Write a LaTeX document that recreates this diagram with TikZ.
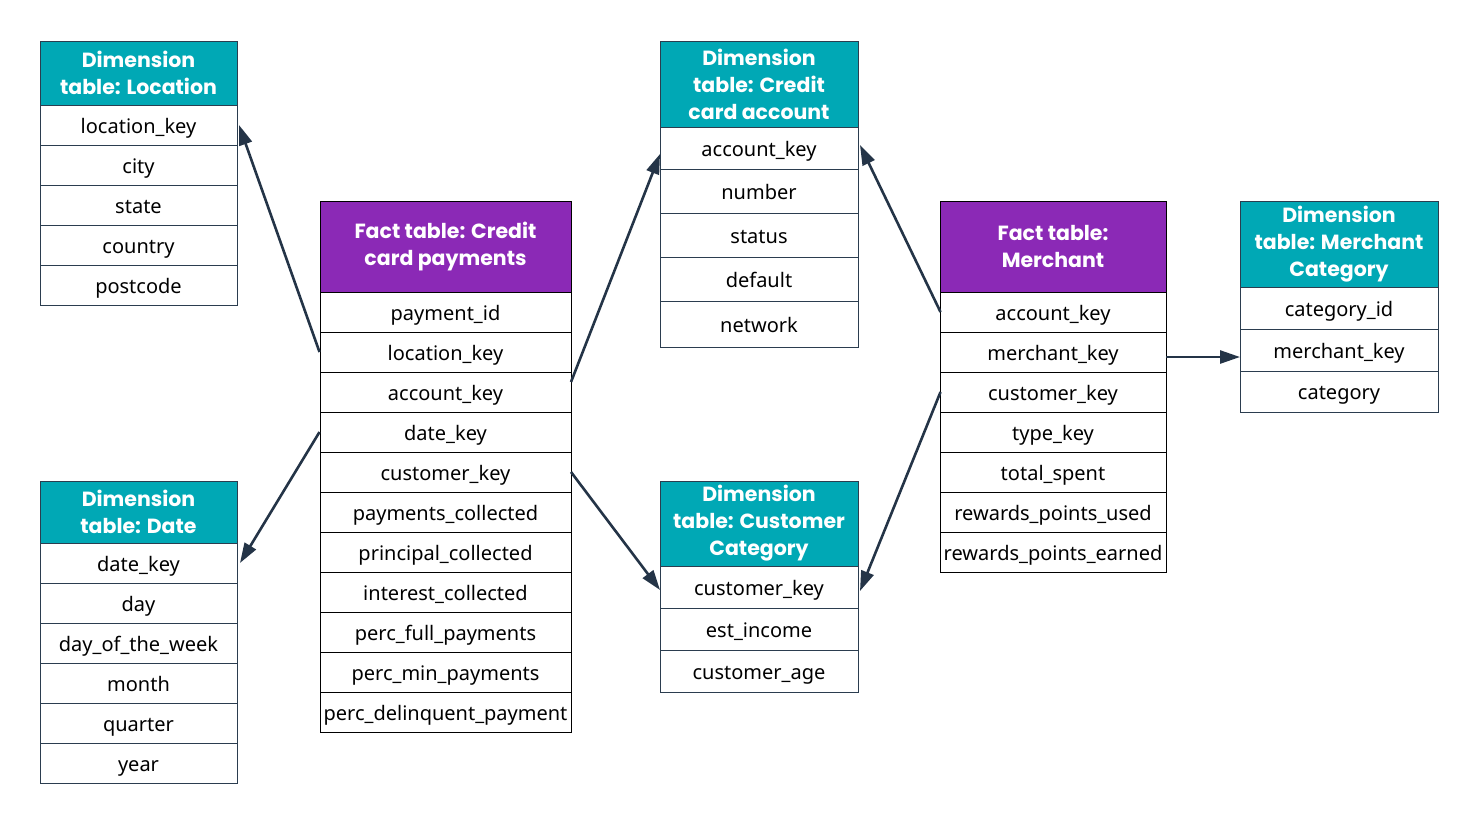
\documentclass[tikz,border=0pt]{standalone}
\usepackage{fontspec}
\setmainfont{Noto Sans}
\newfontfamily\titlefont{Poppins}
\usetikzlibrary{arrows.meta,calc}
\definecolor{tealh}{HTML}{00A8B5}
\definecolor{purph}{HTML}{8B29B6}
\definecolor{edgec}{HTML}{243447}
\definecolor{dimline}{HTML}{2B3D4F}
\begin{document}
\begin{tikzpicture}[x=1pt,y=-1pt,
  cell/.style={draw, line width=1pt, inner sep=0pt, outer sep=0pt, anchor=north west,
    font=\fontsize{20}{22}\selectfont, text=black, text height=17pt, text depth=1pt},
  dimcell/.style={cell, draw=dimline},
  factcell/.style={cell, draw=black},
  headtext/.style={text=white, align=center, text height=, text depth=, font=\titlefont\bfseries\fontsize{20.5}{27}\selectfont},
  dimhead/.style={dimcell, fill=tealh, headtext},
  facthead/.style={factcell, fill=purph, headtext},
  link/.style={draw=edgec, line width=2.6pt, -{Triangle[length=20pt,width=13pt]}}
]
\useasboundingbox (0,0) rectangle (1479,823);

% ---------- Dimension table: Location ----------
\node[dimhead, minimum width=197pt, minimum height=64pt] (loch) at (40,41) {Dimension\\table: Location};
\foreach \t [count=\i] in {location\_key,city,state,country,postcode}
  \node[dimcell, minimum width=197pt, minimum height=40pt] (loc\i) at (40,{105+40*(\i-1)}) {\t};

% ---------- Dimension table: Date ----------
\node[dimhead, minimum width=197pt, minimum height=62pt] (dateh) at (40,481) {Dimension\\table: Date};
\foreach \t [count=\i] in {date\_key,day,day\_of\_the\_week,month,quarter,year}
  \node[dimcell, minimum width=197pt, minimum height=40pt] (date\i) at (40,{543+40*(\i-1)}) {\t};

% ---------- Fact table: Credit card payments ----------
\node[facthead, minimum width=251pt, minimum height=91pt] (fph) at (320,201) {Fact table: Credit\\card payments};
\foreach \t [count=\i] in {payment\_id,location\_key,account\_key,date\_key,customer\_key,payments\_collected,principal\_collected,interest\_collected,perc\_full\_payments,perc\_min\_payments,perc\_delinquent\_payment}
  \node[factcell, minimum width=251pt, minimum height=40pt] (fp\i) at (320,{292+40*(\i-1)}) {\t};

% ---------- Dimension table: Credit card account ----------
\node[dimhead, minimum width=198pt, minimum height=86pt] (cch) at (660,41) {Dimension\\table: Credit\\card account};
\node[dimcell, minimum width=198pt, minimum height=42pt] (cc1) at (660,127) {account\_key};
\node[dimcell, minimum width=198pt, minimum height=44pt] (cc2) at (660,169) {number};
\node[dimcell, minimum width=198pt, minimum height=44pt] (cc3) at (660,213) {status};
\node[dimcell, minimum width=198pt, minimum height=44pt] (cc4) at (660,257) {default};
\node[dimcell, minimum width=198pt, minimum height=46pt] (cc5) at (660,301) {network};

% ---------- Dimension table: Customer Category ----------
\node[dimhead, minimum width=198pt, minimum height=85pt] (custh) at (660,481) {Dimension\\table: Customer\\Category};
\foreach \t [count=\i] in {customer\_key,est\_income,customer\_age}
  \node[dimcell, minimum width=198pt, minimum height=42pt] (cust\i) at (660,{566+42*(\i-1)}) {\t};

% ---------- Fact table: Merchant ----------
\node[facthead, minimum width=226pt, minimum height=91pt] (mh) at (940,201) {Fact table:\\Merchant};
\foreach \t [count=\i] in {account\_key,merchant\_key,customer\_key,type\_key,total\_spent,rewards\_points\_used,rewards\_points\_earned}
  \node[factcell, minimum width=226pt, minimum height=40pt] (m\i) at (940,{292+40*(\i-1)}) {\t};

% ---------- Dimension table: Merchant Category ----------
\node[dimhead, minimum width=198pt, minimum height=86pt] (mch) at (1240,201) {Dimension\\table: Merchant\\Category};
\node[dimcell, minimum width=198pt, minimum height=42pt] (mc1) at (1240,287) {category\_id};
\node[dimcell, minimum width=198pt, minimum height=42pt] (mc2) at (1240,329) {merchant\_key};
\node[dimcell, minimum width=198pt, minimum height=41pt] (mc3) at (1240,371) {category};

% ---------- Connectors ----------
\draw[link] ([xshift=-0.5pt]fp2.west) -- ([xshift=2pt]loc1.east);
\draw[link] ([xshift=-0.5pt]fp4.west) -- ([xshift=3pt]date1.east);
\draw[link] ([yshift=10pt]fp3.east) -- ([yshift=-6pt]cc1.west);
\draw[link] (fp5.east) -- ([yshift=-3pt]cust1.west);
\draw[link] ([xshift=0.5pt]m1.west) -- ([xshift=2pt,yshift=3pt]cc1.east);
\draw[link] ([xshift=0.5pt]m3.west) -- ([xshift=2pt,yshift=-4pt]cust1.east);
\draw[link] ([yshift=-5pt]m2.east) -- ([yshift=-7pt]mc2.west);
\end{tikzpicture}
\end{document}
